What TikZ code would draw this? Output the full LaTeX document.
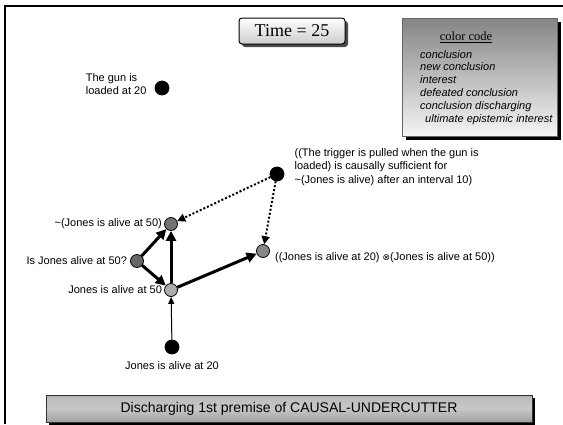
\documentclass[tikz,border=0pt]{standalone}
\usepackage{fontspec}
\setmainfont{Liberation Sans}
\newfontfamily\timesfont{Liberation Serif}
\newfontfamily\dejavu{DejaVu Sans}
\usetikzlibrary{positioning,shadows,arrows.meta}
% rounded metal look of the caption bar
\pgfdeclareverticalshading{bannerbar}{100bp}{color(0bp)=(black!70);
  color(20bp)=(black!40); color(50bp)=(black!22); color(70bp)=(black!26);
  color(88bp)=(black!50); color(100bp)=(black!80)}

\begin{document}
\begin{tikzpicture}[x=1pt, y=-1pt,
  every node/.style = {font=\fontsize{11}{13.5}\selectfont},
  dot/.style = {circle, draw=black, line width=0.8pt,
    minimum size=13pt, inner sep=0pt},
  given/.style = {dot, fill=black, minimum size=14pt},
  lbl/.style = {inner sep=1pt, align=left},
  infer/.style = {line width=3pt, -{Triangle[length=10pt,width=10pt]}},
  support/.style = {line width=1pt, -{Triangle[length=7pt,width=6pt]}},
  cause/.style = {line width=2pt, dash pattern=on 2pt off 2pt,
    -{Triangle[length=8pt,width=8pt]}},
  titlebox/.style = {rectangle, rounded corners=3pt, draw, line width=1pt,
    top color=white, bottom color=black!20,
    minimum width=106pt, minimum height=26pt,
    font=\timesfont\fontsize{18}{20}\selectfont,
    drop shadow={shadow xshift=3pt, shadow yshift=-3pt, fill=black!70, opacity=1}},
  legendbox/.style = {rectangle, draw=black!60, top color=black!48,
    bottom color=black!4, minimum width=155pt, minimum height=118pt,
    drop shadow={shadow xshift=4pt, shadow yshift=-4pt, fill=black, opacity=1}},
  banner/.style = {rectangle, draw=black!80, shading=bannerbar,
    minimum width=486pt, minimum height=27pt,
    font=\fontsize{14}{16}\selectfont,
    drop shadow={shadow xshift=3pt, shadow yshift=-3pt, fill=black, opacity=1}}]

  \useasboundingbox (0,0) rectangle (563,424);
  \draw[line width=2pt] (5,424) |- (563,6);

  % header and colour legend
  \node[titlebox] (time) at (292,31) {Time = 25};
  \node[legendbox] (legend) at (479.5,77) {};
  \node[font=\timesfont\fontsize{12.5}{14}\selectfont] (legendtitle)
    at (466,37) {\underline{color code}};
  \node[lbl, anchor=north west, font=\itshape\fontsize{11}{12.8}\selectfont]
    (legendkeys) at (419,49) {conclusion\\new conclusion\\interest\\
    defeated conclusion\\conclusion discharging\\
    \hspace*{5pt}ultimate epistemic interest};

  % inference graph
  \node[given] (gun) at (162,88) {};
  \node[given] (trigger) at (277,174) {};
  \node[dot, fill=black!55] (notalive50) at (171,224) {};
  \node[dot, fill=black!60] (query50) at (137,261) {};
  \node[dot, fill=black!33] (alive50) at (171,290) {};
  \node[dot, fill=black!47] (conj) at (263,251) {};
  \node[given] (alive20) at (172,347) {};

  \node[lbl, left=7pt of gun, yshift=4pt] (guntext) {The gun is\\loaded at 20};
  \node[lbl, right=9pt of trigger, yshift=7pt] (triggertext)
    {((The trigger is pulled when the gun is\\loaded) is causally sufficient for\\
    \textasciitilde(Jones is alive) after an interval 10)};
  \node[lbl, left=1pt of notalive50] (notalive50text) {\textasciitilde(Jones is alive at 50)};
  \node[lbl, left=2pt of query50] (query50text) {Is Jones alive at 50?};
  \node[lbl, left=1pt of alive50] (alive50text) {Jones is alive at 50};
  \node[lbl, right=4pt of conj, yshift=-7pt] (conjtext)
    {((Jones is alive at 20) {\dejavu\fontsize{9}{10}\selectfont ⊗}(Jones is alive at 50))};
  \node[lbl, below=6pt of alive20] (alive20text) {Jones is alive at 20};

  \draw[support] (alive20) -- (alive50);
  \draw[infer] (alive50) -- (notalive50);
  \draw[infer] (query50) -- (notalive50);
  \draw[infer] (query50) -- (alive50);
  \draw[infer] (alive50) -- (conj);
  \draw[cause] (trigger) -- (notalive50);
  \draw[cause] (trigger) -- (conj);

  \node[banner] (caption) at (289,408.5) {Discharging 1st premise of CAUSAL-UNDERCUTTER};
\end{tikzpicture}
\end{document}
